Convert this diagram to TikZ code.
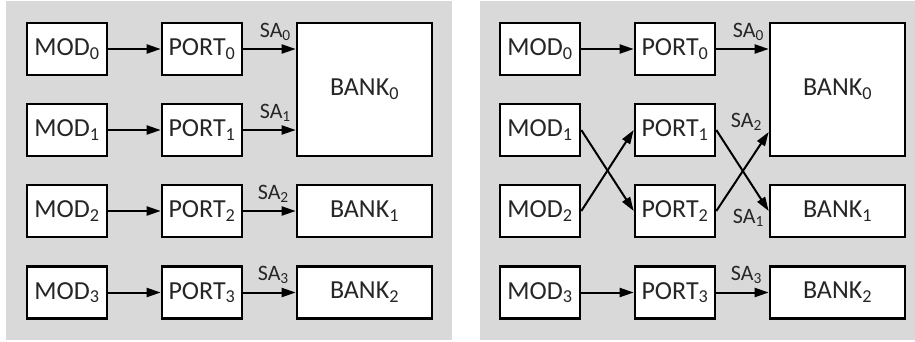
\documentclass[tikz,border=0pt]{standalone}
\usepackage{fontspec}
\setmainfont{Carlito}
\usetikzlibrary{arrows.meta,calc}
\begin{document}
\begin{tikzpicture}[x=1pt,y=-1pt,
  panel/.style={fill=black!15,draw=none},
  box/.style={draw=black,fill=white,line width=2.6pt,inner sep=0pt,text=black!85,font=\fontsize{26}{30}\selectfont},
  small/.style={box,minimum width=80pt,minimum height=52pt},
  bigbank/.style={box,minimum width=135pt,minimum height=133pt},
  lowbank/.style={box,minimum width=135pt,minimum height=52pt},
  conn/.style={line width=2pt,-{Triangle[length=14pt,width=9pt]}},
  salab/.style={inner sep=0pt,anchor=base east,text=black!85,font=\fontsize{22}{26}\selectfont}]
\useasboundingbox (0,0) rectangle (915,341);
\fill[panel] (6,1) rectangle (452,340);
\fill[panel] (480,1) rectangle (915,340);
% ---------- left panel ----------
\node[small] (lm0) at (67,49) {MOD\textsubscript{0}};
\node[small] (lm1) at (67,130) {MOD\textsubscript{1}};
\node[small] (lm2) at (67,211) {MOD\textsubscript{2}};
\node[small] (lm3) at (67,292.5) {MOD\textsubscript{3}};
\node[small] (lp0) at (202,49) {PORT\textsubscript{0}};
\node[small] (lp1) at (202,130) {PORT\textsubscript{1}};
\node[small] (lp2) at (202,211) {PORT\textsubscript{2}};
\node[small] (lp3) at (202,292.5) {PORT\textsubscript{3}};
\node[bigbank] (lb0) at (364.5,89.5) {BANK\textsubscript{0}};
\node[lowbank] (lb1) at (364.5,211) {BANK\textsubscript{1}};
\node[lowbank] (lb2) at (364.5,292.5) {BANK\textsubscript{2}};
\draw[conn] (lm0) -- (lp0);
\draw[conn] (lm1) -- (lp1);
\draw[conn] (lm2) -- (lp2);
\draw[conn] (lm3) -- (lp3);
\draw[conn] (lp0.east) -- (lp0.east -| lb0.west);
\draw[conn] (lp1.east) -- (lp1.east -| lb0.west);
\draw[conn] (lp2) -- (lb1);
\draw[conn] (lp3) -- (lb2);
\node[salab] (lsa0) at (291,37) {SA\textsubscript{0}};
\node[salab] (lsa1) at (291,118) {SA\textsubscript{1}};
\node[salab] (lsa2) at (289,199) {SA\textsubscript{2}};
\node[salab] (lsa3) at (289,280) {SA\textsubscript{3}};
% ---------- right panel ----------
\node[small] (rm0) at (540,49) {MOD\textsubscript{0}};
\node[small] (rm1) at (540,130) {MOD\textsubscript{1}};
\node[small] (rm2) at (540,211) {MOD\textsubscript{2}};
\node[small] (rm3) at (540,292.5) {MOD\textsubscript{3}};
\node[small] (rp0) at (675,49) {PORT\textsubscript{0}};
\node[small] (rp1) at (675,130) {PORT\textsubscript{1}};
\node[small] (rp2) at (675,211) {PORT\textsubscript{2}};
\node[small] (rp3) at (675,292.5) {PORT\textsubscript{3}};
\node[bigbank] (rb0) at (837.5,89.5) {BANK\textsubscript{0}};
\node[lowbank] (rb1) at (837.5,211) {BANK\textsubscript{1}};
\node[lowbank] (rb2) at (837.5,292.5) {BANK\textsubscript{2}};
\draw[conn] (rm0) -- (rp0);
\draw[conn] (rm1.east) -- (rp2.west);
\draw[conn] (rm2.east) -- (rp1.west);
\draw[conn] (rm3) -- (rp3);
\draw[conn] (rp0.east) -- (rp0.east -| rb0.west);
\draw[conn] (rp1.east) -- (rb1.west);
\draw[conn] (rp2.east) -- ($(rp1.east -| rb0.west)+(0,2)$);
\draw[conn] (rp3) -- (rb2);
\node[salab] (rsa0) at (764,37) {SA\textsubscript{0}};
\node[salab] (rsa2) at (762,127) {SA\textsubscript{2}};
\node[salab] (rsa1) at (764,223) {SA\textsubscript{1}};
\node[salab] (rsa3) at (762,280) {SA\textsubscript{3}};
\end{tikzpicture}
\end{document}
